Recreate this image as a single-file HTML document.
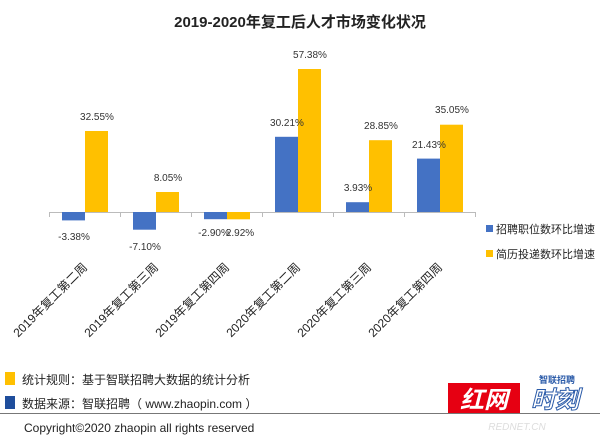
<!DOCTYPE html>
<html><head><meta charset="utf-8"><style>
body{margin:0;background:#fff;}
svg{display:block;font-family:"Liberation Sans","Noto Sans CJK SC",sans-serif;}
</style></head><body>
<svg width="600" height="442" viewBox="0 0 600 442" xmlns="http://www.w3.org/2000/svg">
<text x="300" y="27" text-anchor="middle" font-size="15" font-weight="bold" fill="#222">2019-2020年复工后人才市场变化状况</text>
<line x1="49" y1="212.5" x2="476" y2="212.5" stroke="#bbb"/>
<g stroke="#bbb">
<line x1="49.5" y1="212" x2="49.5" y2="217"/><line x1="120.5" y1="212" x2="120.5" y2="217"/><line x1="191.5" y1="212" x2="191.5" y2="217"/><line x1="262.5" y1="212" x2="262.5" y2="217"/><line x1="333.5" y1="212" x2="333.5" y2="217"/><line x1="404.5" y1="212" x2="404.5" y2="217"/><line x1="475.5" y1="212" x2="475.5" y2="217"/>
</g>
<g fill="#4472C4">
<rect x="62" y="212" width="23" height="8.4"/>
<rect x="133" y="212" width="23" height="17.7"/>
<rect x="204" y="212" width="23" height="7.2"/>
<rect x="275" y="136.8" width="23" height="75.2"/>
<rect x="346" y="202.2" width="23" height="9.8"/>
<rect x="417" y="158.6" width="23" height="53.4"/>
</g>
<g fill="#FFC000">
<rect x="85" y="131" width="23" height="81"/>
<rect x="156" y="192" width="23" height="20"/>
<rect x="227" y="212" width="23" height="7.3"/>
<rect x="298" y="69" width="23" height="143"/>
<rect x="369" y="140.2" width="23" height="71.8"/>
<rect x="440" y="124.7" width="23" height="87.3"/>
</g>
<g font-size="10" fill="#333" text-anchor="middle">
<text x="97" y="120">32.55%</text>
<text x="168" y="181">8.05%</text>
<text x="310" y="58">57.38%</text>
<text x="381" y="129">28.85%</text>
<text x="452" y="113">35.05%</text>
<text x="287" y="126">30.21%</text>
<text x="358" y="191">3.93%</text>
<text x="429" y="148">21.43%</text>
<text x="74" y="240">-3.38%</text>
<text x="145" y="250">-7.10%</text>
<text x="214" y="236">-2.90%</text>
<text x="240" y="236">2.92%</text>
</g>
<g font-size="12" fill="#222" text-anchor="end">
<text transform="translate(88,268) rotate(-45)">2019年复工第二周</text>
<text transform="translate(159,268) rotate(-45)">2019年复工第三周</text>
<text transform="translate(230,268) rotate(-45)">2019年复工第四周</text>
<text transform="translate(301,268) rotate(-45)">2020年复工第二周</text>
<text transform="translate(372,268) rotate(-45)">2020年复工第三周</text>
<text transform="translate(443,268) rotate(-45)">2020年复工第四周</text>
</g>
<rect x="486" y="225" width="7" height="7" fill="#4472C4"/>
<text x="496" y="233" font-size="11" fill="#222">招聘职位数环比增速</text>
<rect x="486" y="250" width="7" height="7" fill="#FFC000"/>
<text x="496" y="258" font-size="11" fill="#222">简历投递数环比增速</text>
<rect x="5" y="372" width="10" height="13" fill="#FFC000"/>
<text x="22" y="384" font-size="12" fill="#222">统计规则：基于智联招聘大数据的统计分析</text>
<rect x="5" y="396" width="10" height="13" fill="#1F4E9C"/>
<text x="22" y="408" font-size="12" fill="#222">数据来源：智联招聘（ www.zhaopin.com ）</text>
<line x1="0" y1="413.5" x2="600" y2="413.5" stroke="#777"/>
<text x="24" y="432" font-size="12" fill="#222">Copyright©2020 zhaopin all rights reserved</text>
<rect x="448" y="383" width="72" height="30" fill="#E60012"/>
<text x="484" y="408" font-size="24" font-weight="bold" font-style="italic" fill="#fff" text-anchor="middle">红网</text>
<text x="555" y="408" font-size="24" font-weight="bold" font-style="italic" fill="#fff" stroke="#2a5aa8" stroke-width="1" text-anchor="middle">时刻</text>
<text x="557" y="383" font-size="9" font-weight="bold" fill="#2a5aa8" text-anchor="middle">智联招聘</text>
<text x="517" y="430" font-size="10" font-style="italic" fill="#ddd" text-anchor="middle">REDNET.CN</text>
</svg>
</body></html>
